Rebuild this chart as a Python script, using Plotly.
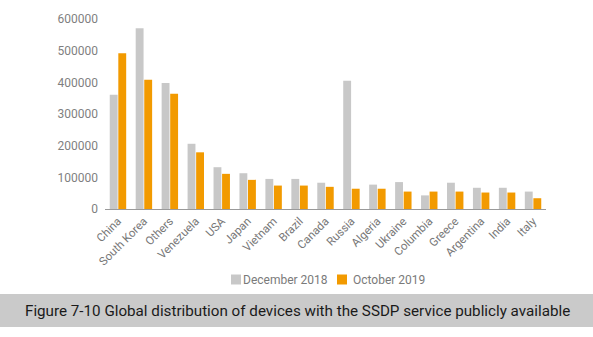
import plotly.graph_objects as go

categories = ["China", "South Korea", "Others", "Venezuela", "USA", "Japan", "Vietnam",
              "Brazil", "Canada", "Russia", "Algeria", "Ukraine", "Columbia", "Greece",
              "Argentina", "India", "Italy"]
dec_2018 = [361000, 571000, 398000, 206000, 132000, 113000, 95000,
            95000, 83000, 405000, 77000, 85000, 43000, 83000,
            67000, 67000, 55000]
oct_2019 = [492000, 408000, 364000, 179000, 111000, 92000, 74000,
            74000, 70000, 64000, 64000, 55000, 55000, 55000,
            52000, 52000, 34000]
series_names = ["December 2018", "October 2019"]
series_colors = ["#c8c8c8", "#f29a00"]
y_ticks = [0, 100000, 200000, 300000, 400000, 500000, 600000]
caption = "Figure 7-10 Global distribution of devices with the SSDP service publicly available"

W, H = 593, 337
L, R, T, B = 105, 47, 19, 128
pw, ph = W - L - R, H - T - B

def px_x(x):
    return (x - L) / pw

def px_y(y):
    return (H - B - y) / ph

fig = go.Figure()
for name, vals, col in zip(series_names, [dec_2018, oct_2019], series_colors):
    fig.add_trace(go.Bar(x=categories, y=vals, name=name,
                         marker=dict(color=col, line=dict(width=0))))

fig.update_layout(
    width=W, height=H,
    margin=dict(l=L, r=R, t=T, b=B, pad=0),
    paper_bgcolor="white", plot_bgcolor="white",
    barmode="group", bargap=0.34, bargroupgap=0.08,
    font=dict(family="Roboto", color="#777777"),
    xaxis=dict(showline=True, linecolor="#9a9a9a", linewidth=1, tickangle=-45,
               tickfont=dict(size=11.5, color="#777777"), showgrid=False, ticks=""),
    yaxis=dict(range=[0, 600000], tickvals=y_ticks, tickformat="d", showgrid=False,
               zeroline=False, showline=False, tickfont=dict(size=12, color="#7f7f7f"),
               ticklabelstandoff=6),
    showlegend=False,
)

# custom compact legend
legend_items = [(231, 243), (337, 353)]
for (sx, tx), name, col in zip(legend_items, series_names, series_colors):
    fig.add_shape(type="rect", xref="paper", yref="paper",
                  x0=px_x(sx), x1=px_x(sx + 10), y0=px_y(284.5), y1=px_y(274.5),
                  fillcolor=col, line=dict(width=0))
    fig.add_annotation(text=name, xref="paper", yref="paper",
                       x=px_x(tx - 2), y=px_y(279.5), xanchor="left", yanchor="middle",
                       showarrow=False, font=dict(family="Roboto", size=12, color="#7a7a7a"))

fig.add_shape(type="rect", xref="paper", yref="paper",
              x0=px_x(0), x1=px_x(593), y0=px_y(327), y1=px_y(294),
              fillcolor="#cacaca", line=dict(width=0), layer="below")
fig.add_annotation(text=caption, xref="paper", yref="paper",
                   x=px_x(297.5), y=px_y(310.5), xanchor="center", yanchor="middle",
                   showarrow=False, font=dict(family="Roboto", size=15.2, color="#1a1a1a"))

fig.write_html("out.html")
